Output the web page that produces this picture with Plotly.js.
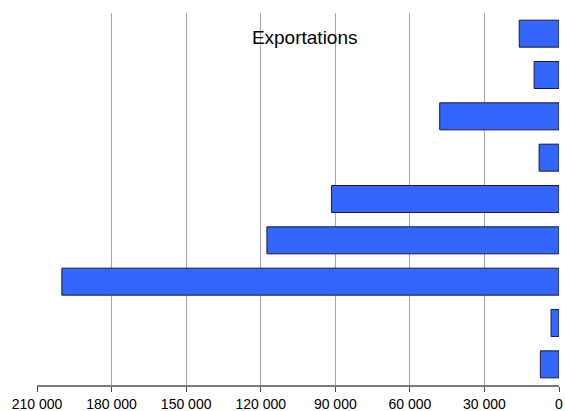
<!DOCTYPE html>
<html>
<head>
<meta charset="utf-8">
<script src="https://cdn.plot.ly/plotly-3.0.1.min.js"></script>
<style>html,body{margin:0;padding:0;background:#fff;}#chart{width:565px;height:411px;}</style>
</head>
<body>
<div id="chart"></div>
<script>
const categories = ["A", "B", "C", "D", "E", "F", "G", "H", "I"];
const exportations = [16000, 10000, 48000, 8000, 91500, 117500, 200000, 3200, 7500];
const tickValues = [210000, 180000, 150000, 120000, 90000, 60000, 30000, 0];
const chartTitle = "Exportations";

const trace = {
  type: "bar",
  orientation: "h",
  y: categories,
  x: exportations,
  marker: {color: "#3366ff", line: {color: "#1a1a33", width: 1}},
  hoverinfo: "x"
};

const layout = {
  width: 565, height: 411,
  margin: {l: 37, r: 6, t: 13, b: 26, pad: 0},
  paper_bgcolor: "#ffffff", plot_bgcolor: "#ffffff",
  separators: ", ",
  showlegend: false,
  bargap: 0.347,
  font: {family: "Liberation Sans, Arial, sans-serif", color: "#000"},
  title: {
    text: chartTitle,
    font: {size: 19, color: "#000", family: "Liberation Sans, Arial, sans-serif"},
    x: 304.7 / 565, xanchor: "center", xref: "container",
    y: 1 - 37 / 411, yanchor: "middle", yref: "container"
  },
  xaxis: {
    range: [210000, 0],
    tickvals: tickValues,
    tickformat: ",d",
    showgrid: true, gridcolor: "#a6a6a6", gridwidth: 1,
    zeroline: false,
    showline: true, linecolor: "#7a7a7a", linewidth: 2,
    ticks: "outside", ticklen: 5, tickcolor: "#444", tickwidth: 1,
    ticklabelstandoff: 0,
    tickfont: {size: 14, color: "#000"},
    fixedrange: true
  },
  yaxis: {
    autorange: "reversed",
    showticklabels: false,
    showgrid: false, zeroline: false, showline: false, ticks: "",
    fixedrange: true
  }
};

Plotly.newPlot("chart", [trace], layout, {displayModeBar: false, staticPlot: true});
</script>
</body>
</html>
